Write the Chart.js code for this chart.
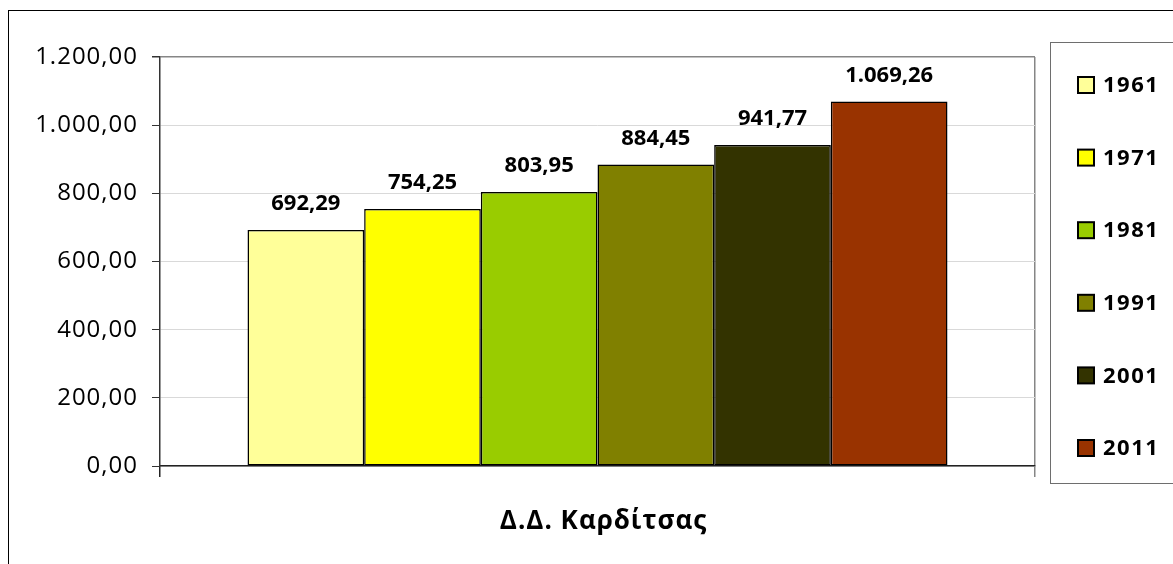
<!DOCTYPE html>
<html lang="el">
<head>
<meta charset="UTF-8">
<title>Δ.Δ. Καρδίτσας</title>
<script src="https://cdn.jsdelivr.net/npm/chart.js"></script>
<style>
  body { margin: 0; background: #ffffff; }
  #wrap { position: relative; width: 1173px; height: 564px; }
</style>
</head>
<body>
<div id="wrap"><canvas id="chart"></canvas></div>
<script>
const categories = ['Δ.Δ. Καρδίτσας'];
const years = ['1961', '1971', '1981', '1991', '2001', '2011'];
const values = [692.29, 754.25, 803.95, 884.45, 941.77, 1069.26];
const colors = ['#FFFF99', '#FFFF00', '#99CC00', '#808000', '#333300', '#993300'];
const yTicks = [0, 200, 400, 600, 800, 1000, 1200];

const FONT = '"Open Sans", "Noto Sans", sans-serif';

// 1200.5 -> "1.200,50"
function fmt(v) {
  const parts = v.toFixed(2).split('.');
  parts[0] = parts[0].replace(/\B(?=(\d{3})+(?!\d))/g, '.');
  return parts[0] + ',' + parts[1];
}

// the original text is set a little wider than Open Sans
const spacing = {
  id: 'spacing',
  beforeLayout(chart) { chart.ctx.letterSpacing = '1px'; },
  beforeDraw(chart) { chart.ctx.letterSpacing = '1px'; }
};

const frame = {
  id: 'frame',
  beforeDraw(chart) {
    const c = chart.ctx;
    c.save();
    c.fillStyle = '#fff';
    c.fillRect(0, 0, chart.width, chart.height);
    c.strokeStyle = '#000';
    c.lineWidth = 1;
    c.strokeRect(8.5, 10.5, 3000, 3000);
    c.restore();
  }
};

const valueLabels = {
  id: 'valueLabels',
  afterDatasetsDraw(chart) {
    const c = chart.ctx;
    c.save();
    c.letterSpacing = '0px';
    c.font = 'bold 22px ' + FONT;
    c.fillStyle = '#000';
    c.textAlign = 'center';
    c.textBaseline = 'middle';
    chart.data.datasets.forEach((ds, i) => {
      const bar = chart.getDatasetMeta(i).data[0];
      c.fillText(fmt(ds.data[0]), bar.x, bar.y - 26);
    });
    c.restore();
  }
};

const sideLegend = {
  id: 'sideLegend',
  afterDraw(chart) {
    const c = chart.ctx;
    c.save();
    c.strokeStyle = '#6e6e6e';
    c.lineWidth = 1;
    c.strokeRect(1050.5, 42.5, 400, 441);
    c.letterSpacing = '1.5px';
    c.font = 'bold 22px ' + FONT;
    c.textBaseline = 'middle';
    c.textAlign = 'left';
    chart.data.datasets.forEach((ds, i) => {
      const cy = 85 + i * 72.6;
      c.fillStyle = ds.backgroundColor;
      c.fillRect(1078, cy - 8, 16, 16);
      c.strokeStyle = '#000';
      c.lineWidth = 2;
      c.strokeRect(1078, cy - 8, 16, 16);
      c.fillStyle = '#000';
      c.fillText(ds.label, 1103, cy + 1);
    });
    c.restore();
  }
};

new Chart(document.getElementById('chart'), {
  type: 'bar',
  data: {
    labels: categories,
    datasets: years.map((y, i) => ({
      label: y,
      data: [values[i]],
      backgroundColor: colors[i],
      borderColor: '#000',
      borderWidth: 1.5,
      borderSkipped: false,
      categoryPercentage: 0.8,
      barPercentage: 1.0
    }))
  },
  options: {
    responsive: true,
    maintainAspectRatio: false,
    animation: false,
    layout: { padding: { left: 0, top: 57, right: 138, bottom: 0 } },
    plugins: {
      legend: { display: false },
      tooltip: { enabled: false }
    },
    scales: {
      x: {
        afterFit(scale) { scale.height = 98; },
        grid: {
          offset: true,
          drawOnChartArea: true,
          color: ctx => ctx.index === 0 ? 'rgba(0,0,0,0)' : '#868686',
          tickColor: ctx => ctx.index === 0 ? '#222' : '#868686',
          tickLength: 11,
          lineWidth: 1.5
        },
        border: { color: '#222', width: 1.5 },
        ticks: {
          color: '#000',
          padding: 29,
          labelOffset: 6,
          font: { family: FONT, size: 26, weight: 'bold' }
        }
      },
      y: {
        min: 0,
        max: 1200,
        afterFit(scale) { scale.width = 160; },
        afterBuildTicks(scale) { scale.ticks = yTicks.map(v => ({ value: v })); },
        grid: {
          color: ctx => ctx.tick && ctx.tick.value === 1200 ? '#868686' : '#d9d9d9',
          lineWidth: ctx => ctx.tick && ctx.tick.value === 1200 ? 1.5 : 1,
          tickColor: '#333',
          tickLength: 8
        },
        border: { color: '#333', width: 1.5 },
        ticks: {
          color: '#000',
          padding: 14,
          font: { family: FONT, size: 24 },
          callback: v => fmt(v)
        }
      }
    }
  },
  plugins: [spacing, frame, valueLabels, sideLegend]
});
</script>
</body>
</html>
